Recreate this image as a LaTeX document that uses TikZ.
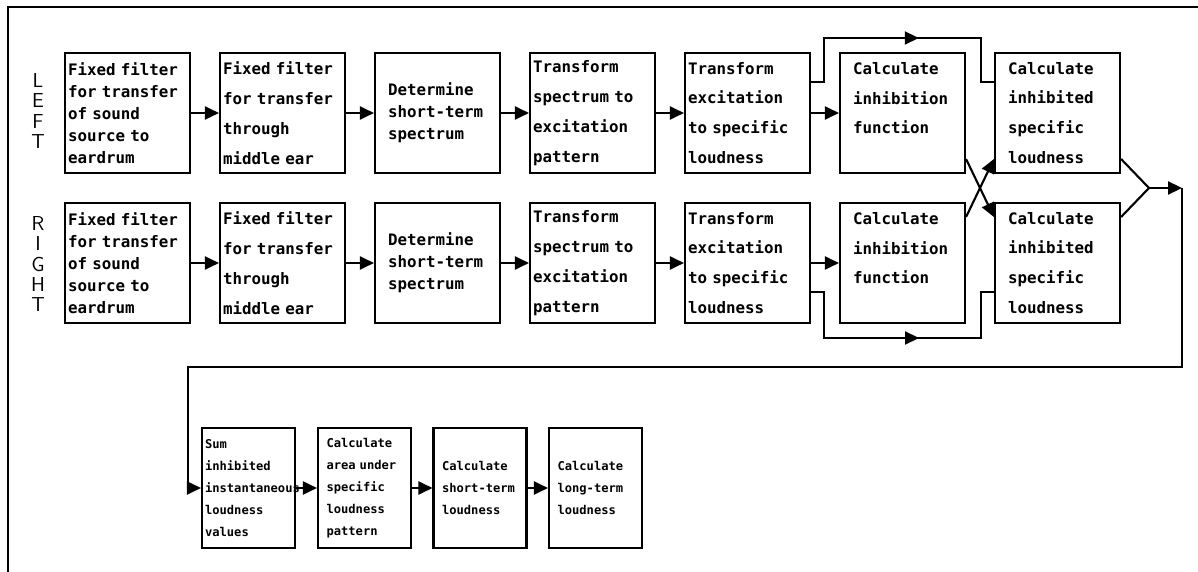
\documentclass[tikz,border=0pt]{standalone}
\usepackage{fontspec}
\newfontfamily\boxfont{DejaVu Sans Mono}
\usetikzlibrary{arrows.meta,decorations.markings}

\begin{document}
\begin{tikzpicture}[
        line width=1.2pt,
        >={Triangle[length=0.28cm,width=0.26cm]},
        blk/.style={draw, minimum width=2.5cm, minimum height=2.4cm,
                    inner xsep=0.06cm, text width=2.38cm, align=left,
                    font=\boxfont\bfseries\fontsize{9}{12.6}\selectfont},
        loose/.style={font=\boxfont\bfseries\fontsize{9}{17}\selectfont},
        indent/.style={inner xsep=0.26cm, text width=1.98cm},
        bot/.style={blk, minimum width=1.86cm, inner xsep=0.06cm, text width=1.74cm,
                    font=\boxfont\bfseries\fontsize{6.9}{12.5}\selectfont},
        botin/.style={bot, inner xsep=0.17cm, text width=1.52cm},
        side/.style={font=\sffamily\fontsize{11.5}{11.6}\selectfont, align=center, inner sep=0pt},
        midarr/.style={postaction={decorate},
                       decoration={markings, mark=at position #1 with {\arrow{>}}}}
    ]
    \useasboundingbox (0,0) rectangle (23.96,-11.44);
    % frame
    \draw (23.96,-0.14) -- (0.16,-0.14) -- (0.16,-11.44);

    % two ears
    \node[side] (lft) at (0.76,-2.22) {L\\E\\F\\T};
    \node[side] (rgt) at (0.76,-5.28) {R\\I\\G\\H\\T};
    \foreach \r/\y in {l/-2.26, r/-5.26} {
        \node[blk] (\r1) at (2.55,\y) {Fixed filter\\for transfer\\of sound\\source to\\eardrum};
        \node[blk, loose] (\r2) at (5.65,\y) {Fixed filter\\for transfer\\through\\middle ear};
        \node[blk, indent] (\r3) at (8.75,\y) {Determine\\short-term\\spectrum};
        \node[blk, loose] (\r4) at (11.85,\y) {Transform\\spectrum to\\excitation\\pattern};
        \node[blk, loose] (\r5) at (14.95,\y) {Transform\\excitation\\to specific\\loudness};
        \node[blk, loose, indent] (\r6) at (18.05,\y) {Calculate\\inhibition\\function\\\mbox{}};
        \node[blk, loose, indent] (\r7) at (21.15,\y) {Calculate\\inhibited\\specific\\loudness};
        \foreach \a/\b in {1/2,2/3,3/4,4/5,5/6}
            \draw[->] (\r\a) -- (\r\b);
    }

    % excitation past the inhibition stage
    \draw[midarr=.56] ([yshift=.62cm]l5.east) -- ++(.26,0) -- ++(0,.88) -- ++(3.14,0)
        |- ([yshift=.62cm]l7.west);
    \draw[midarr=.56] ([yshift=-.58cm]r5.east) -- ++(.26,0) -- ++(0,-.92) -- ++(3.14,0)
        |- ([yshift=-.58cm]r7.west);

    % inhibition crosses over
    \draw[->] ([yshift=-.92cm]l6.east) -- ([yshift=.92cm]r7.west);
    \draw[->] ([yshift=.92cm]r6.east) -- ([yshift=-.92cm]l7.west);

    % both ears joined
    \coordinate (mg) at (22.98,-3.76);
    \coordinate (fb) at (23.64,-3.76);
    \coordinate (ret) at (3.76,-7.34);
    \draw ([yshift=-.92cm]l7.east) -- (mg) -- ([yshift=.92cm]r7.east);
    \draw[->] (mg) -- (fb);

    % final stages
    \node[bot] (b1) at (4.97,-9.76) {Sum\\inhibited\\instantaneous\\loudness\\values};
    \node[botin] (b2) at (7.29,-9.76) {Calculate\\area under\\specific\\loudness\\pattern};
    \node[botin] (b3) at (9.60,-9.76) {Calculate\\short-term\\loudness};
    \node[botin] (b4) at (11.91,-9.76) {Calculate\\long-term\\loudness};
    \draw[->] (fb) |- (ret) |- (b1.west);
    \foreach \a/\b in {1/2,2/3,3/4}
        \draw[->] (b\a) -- (b\b);
\end{tikzpicture}
\end{document}
